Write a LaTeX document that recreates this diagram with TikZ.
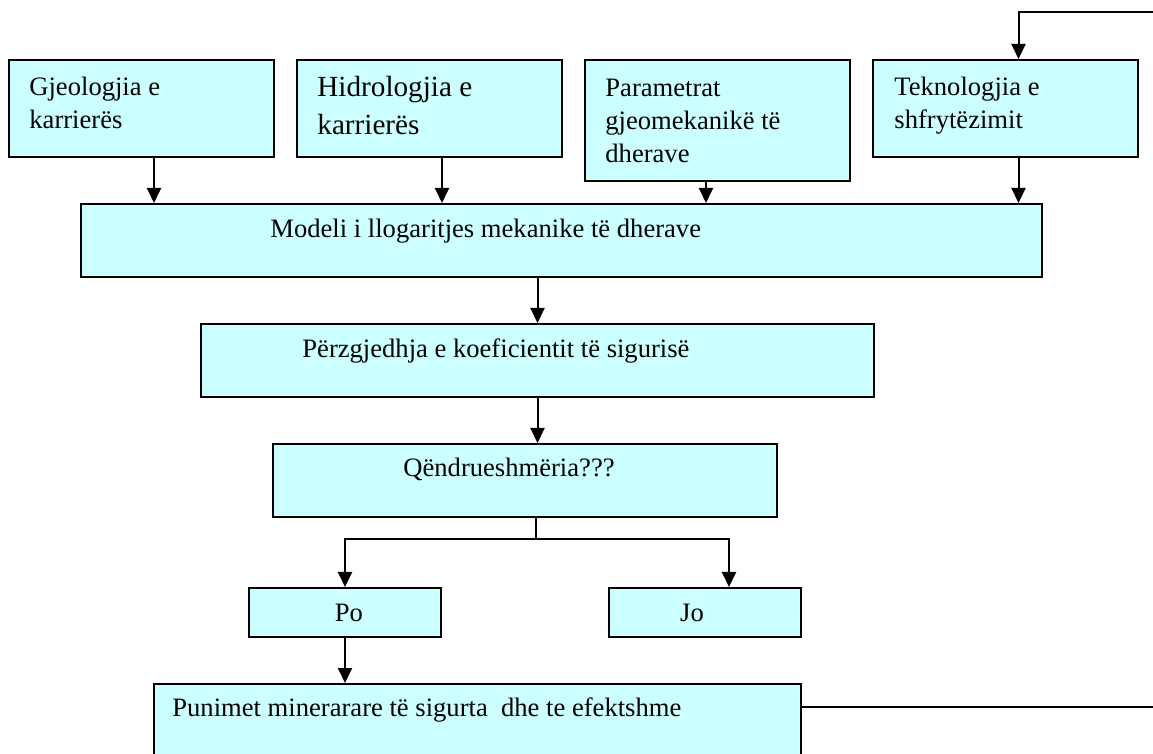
\documentclass[tikz,border=0pt]{standalone}
\usepackage{fontspec}
\setmainfont{Liberation Serif}
\usetikzlibrary{arrows.meta,calc}
\definecolor{boxCyan}{HTML}{CCFFFF}

\begin{document}
\begin{tikzpicture}[x=0.5pt,y=-0.5pt,
  font=\fontsize{13.3}{16.5}\selectfont,
  box/.style={draw, fill=boxCyan, line width=1pt, inner sep=0pt, anchor=north west},
  topb/.style={box, minimum width=132.5pt, minimum height=48.5pt},
  txt/.style={inner sep=0pt, anchor=base west, align=left},
  link/.style={line width=1pt},
  arr/.style={link, -{Triangle[length=7.5pt,width=7pt]}}]
\useasboundingbox (0,0) rectangle (1153,754);
\clip (0,0) rectangle (1153,754);
% input boxes (text placed by the baseline of its last line)
\node[topb] (gjeo) at (8,59) {};
\node[topb] (hidro) at (296,59) {};
\node[topb, minimum height=60.5pt] (param) at (584,59) {};
\node[topb] (tekno) at (872,59) {};
\node[txt] (tgjeo) at (29,129) {Gjeologjia e\\karrierës};
\node[txt, font=\fontsize{14.6}{19}\selectfont] (thidro) at (317,135) {Hidrologjia e\\karrierës};
\node[txt] (tparam) at (605,163) {Parametrat\\gjeomekanikë të\\dherave};
\node[txt] (ttekno) at (894,129) {Teknologjia e\\shfrytëzimit};
% main chain
\node[box, minimum width=480.5pt, minimum height=36.5pt] (model) at (80,203) {};
\node[txt] (tmodel) at (270,238) {Modeli i llogaritjes mekanike të dherave};
\node[box, minimum width=336.5pt, minimum height=36.5pt] (perz) at (200,323) {};
\node[txt] (tperz) at (302,358) {Përzgjedhja e koeficientit të sigurisë};
\node[box, minimum width=252pt, minimum height=36.5pt] (qend) at (272,443) {};
\node[txt] (tqend) at (403,477) {Qëndrueshmëria???};
% answers
\node[box, minimum width=96pt, minimum height=24.5pt] (po) at (248,587) {};
\node[box, minimum width=96pt, minimum height=24.5pt] (jo) at (608,587) {};
\node[txt, anchor=base] (tpo) at (349,622) {Po};
\node[txt, anchor=base] (tjo) at (692,622) {Jo};
\node[box, minimum width=323.5pt, minimum height=58.5pt] (pun) at (153,683) {};
\node[txt] (tpun) at (172,717) {Punimet minerarare të sigurta~ dhe te efektshme};
% connectors
\coordinate (split) at (536,539);
\coordinate (loopr) at (1175,707);
\coordinate (loopt) at (1017,12);
\foreach \b/\dx in {gjeo/6.25pt, hidro/6.25pt, param/-5.75pt, tekno/6.5pt}
  \draw[arr] ([xshift=\dx]\b.south) -- ([xshift=\dx]\b.south |- model.north);
\draw[arr] (perz.north |- model.south) -- (perz.north);
\draw[arr] (perz.south) -- (perz.south |- qend.north);
\draw[link] (qend.south -| split) -- (split);
\draw[arr] (split) -| (po.north);
\draw[arr] (split) -| ([xshift=12pt]jo.north);
\draw[arr] (po.south) -- (po.south |- pun.north);
\draw[arr] ([yshift=-12pt]pun.north east) -- (loopr)
  |- ([xshift=6.5pt]tekno.north |- loopt) -- ([xshift=6.5pt]tekno.north);
\end{tikzpicture}
\end{document}
